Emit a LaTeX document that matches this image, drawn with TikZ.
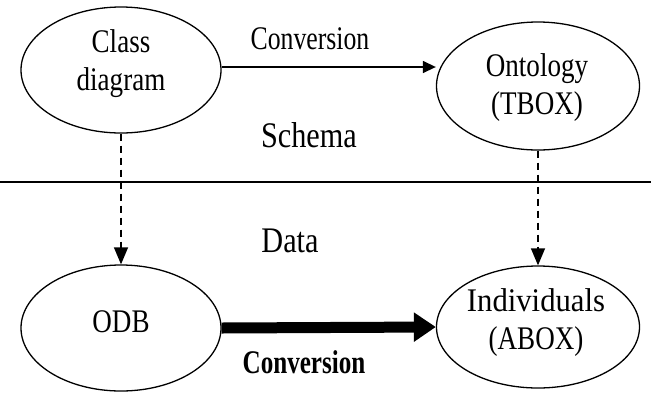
\documentclass[tikz,border=0pt]{standalone}
\usepackage{fontspec}
\setmainfont{Liberation Serif}[FakeStretch=0.82]
\newfontfamily\narrowfont{Liberation Serif}[FakeStretch=0.78]
\newfontfamily\narrowerfont{Liberation Serif}[FakeStretch=0.76]
\newfontfamily\levelfont{Liberation Serif}[FakeStretch=0.84]
\newfontfamily\widefont{Liberation Serif}[FakeStretch=0.93]
\usetikzlibrary{arrows.meta,shapes.geometric}
\begin{document}
\begin{tikzpicture}[x=1pt,y=-1pt,
  bigtext/.style={font=\fontsize{33}{38}\selectfont,align=center,inner sep=0pt},
  oval/.style={ellipse,draw,line width=1.3pt,inner sep=0pt,
    minimum width=200pt,minimum height=126pt},
  leveltext/.style={font=\levelfont\fontsize{36}{40}\selectfont,inner sep=0pt},
  thinarrow/.style={line width=1.4pt,-{Triangle[length=13pt,width=12pt]}},
  fatarrow/.style={line width=11pt,-{Triangle[length=22pt,width=28pt]}},
  dasharrow/.style={line width=1.3pt,dash pattern=on 7pt off 5pt,
    -{Triangle[length=17pt,width=14pt]}},
  divider/.style={line width=1.4pt}
]
\useasboundingbox (0,0) rectangle (651,392);

% schema level
\node[oval] (cd) at (121,70) {};
\node[bigtext] (cdtext) at (121,64) {Class\\diagram};
\node[oval,minimum width=203pt,minimum height=128pt] (onto) at (538,86) {};
\node[bigtext] (ontotext) at (537,88) {Ontology\\(TBOX)};

% data level
\node[oval] (odb) at (121,328) {};
\node[bigtext] (odbtext) at (121,322) {ODB};
\node[oval,minimum width=203pt,minimum height=122pt] (ind) at (538,327) {};
\node[bigtext] (indtext) at (536,323) {{\widefont Individuals}\\(ABOX)};

% level separator
\coordinate (sepL) at (0,182);
\coordinate (sepR) at (651,182);
\draw[divider] (sepL) -- (sepR);

% level labels
\node[leveltext] (schema) at (309,135) {Schema};
\node[leveltext] (data) at (290,241) {Data};

% conversions
\draw[thinarrow] ([yshift=3pt]cd.east) -- ([yshift=3pt]cd.east -| onto.west);
\node[bigtext,font=\narrowfont\fontsize{33}{38}\selectfont] (conv1) at (310,39) {Conversion};

\draw[fatarrow] (odb.east) -- (ind.west);
\node[bigtext,font=\narrowerfont\fontsize{33}{38}\selectfont\bfseries] (conv2) at (304,362) {Conversion};

% instantiation
\draw[dasharrow] (cd.south) -- (odb.north);
\draw[dasharrow] (onto.south) -- (ind.north);
\end{tikzpicture}
\end{document}
